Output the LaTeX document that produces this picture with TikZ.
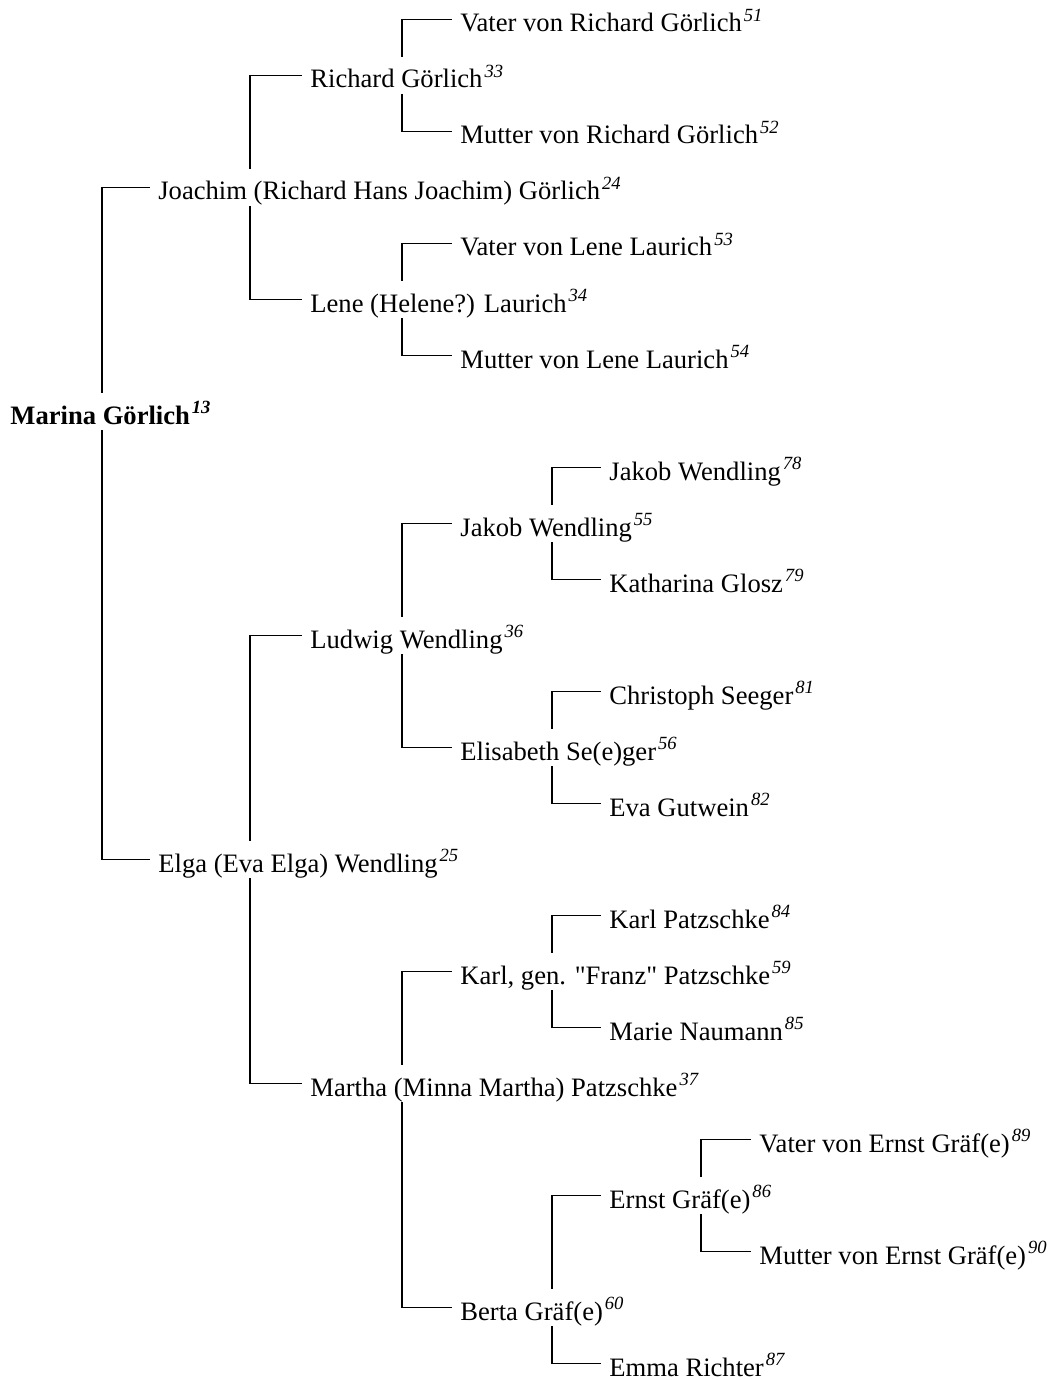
\documentclass[tikz,border=0pt]{standalone}
\usepackage{fontspec}
\setmainfont[Ligatures=NoCommon]{Liberation Serif}
\usepackage{tikz}
\usetikzlibrary{positioning}

\newcommand{\nr}[1]{\kern1pt\textsuperscript{\textit{#1}}}

\begin{document}
\begin{tikzpicture}[x=0.5pt,y=-0.5pt,
  person/.style={anchor=base west,inner xsep=4pt,inner ysep=3pt,
    text height=12.5pt,text depth=0pt,font=\fontsize{13.3}{16}\selectfont},
  link/.style={draw=black,line width=0.6pt}]
\useasboundingbox (0,0) rectangle (1050,1380);
% generation 0 and 1
\node[person] (p13) at (2,424) {\textbf{Marina Görlich\nr{13}}};
\node[person] (p24) at (150,200) {Joachim (Richard Hans Joachim) Görlich\nr{24}};
\node[person] (p25) at (150,872) {Elga (Eva Elga) Wendling\nr{25}};
% generation 2
\node[person] (p33) at (302,88) {Richard Görlich\nr{33}};
\node[person] (p34) at (302,312) {Lene (Helene?) Laurich\nr{34}};
\node[person] (p36) at (302,648) {Ludwig Wendling\nr{36}};
\node[person] (p37) at (302,1096) {Martha (Minna Martha) Patzschke\nr{37}};
% generation 3
\node[person] (p51) at (452,32) {Vater von Richard Görlich\nr{51}};
\node[person] (p52) at (452,144) {Mutter von Richard Görlich\nr{52}};
\node[person] (p53) at (452,256) {Vater von Lene Laurich\nr{53}};
\node[person] (p54) at (452,368) {Mutter von Lene Laurich\nr{54}};
\node[person] (p55) at (452,536) {Jakob Wendling\nr{55}};
\node[person] (p56) at (452,760) {Elisabeth Se(e)ger\nr{56}};
\node[person] (p59) at (452,984) {Karl, gen. \textquotedbl Franz\textquotedbl{} Patzschke\nr{59}};
\node[person] (p60) at (452,1320) {Berta Gräf(e)\nr{60}};
% generation 4
\node[person] (p78) at (601,480) {Jakob Wendling\nr{78}};
\node[person] (p79) at (601,592) {Katharina Glosz\nr{79}};
\node[person] (p81) at (601,704) {Christoph Seeger\nr{81}};
\node[person] (p82) at (601,816) {Eva Gutwein\nr{82}};
\node[person] (p84) at (601,928) {Karl Patzschke\nr{84}};
\node[person] (p85) at (601,1040) {Marie Naumann\nr{85}};
\node[person] (p86) at (601,1208) {Ernst Gräf(e)\nr{86}};
\node[person] (p87) at (601,1376) {Emma Richter\nr{87}};
% generation 5
\node[person] (p89) at (751,1152) {Vater von Ernst Gräf(e)\nr{89}};
\node[person] (p90) at (751,1264) {Mutter von Ernst Gräf(e)\nr{90}};
% fathers (up) and mothers (down)
\foreach \p/\c in {13/24,24/33,33/51,34/53,25/36,36/55,55/78,56/81,37/59,59/84,60/86,86/89}
  \draw[link] ([xshift=50pt]p\p.north west) |- (p\c.west);
\foreach \p/\c in {13/25,24/34,33/52,34/54,25/37,36/56,55/79,56/82,37/60,59/85,60/87,86/90}
  \draw[link] ([xshift=50pt]p\p.south west) |- (p\c.west);
\end{tikzpicture}
\end{document}
